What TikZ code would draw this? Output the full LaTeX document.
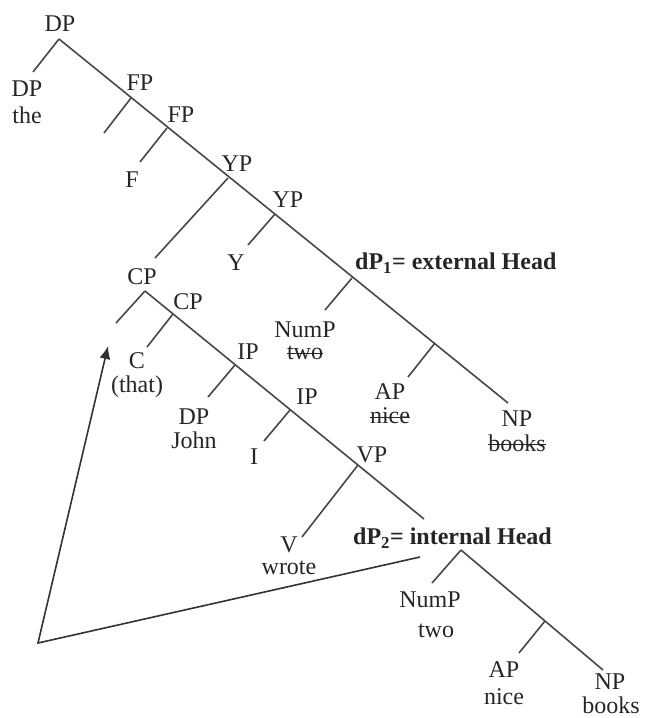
\documentclass[tikz,border=0pt]{standalone}
\usepackage{fontspec}
\setmainfont{Liberation Serif}
\usetikzlibrary{arrows.meta}
\newsavebox\strkbox
\newcommand\strk[1]{\sbox\strkbox{#1}\rlap{\rule[0.24em]{\wd\strkbox}{1.2pt}}\usebox\strkbox}
\begin{document}
\begin{tikzpicture}[x=1pt,y=-1pt,
  lab/.style={font=\fontsize{24}{26}\selectfont, text=black!85, inner sep=0pt},
  head/.style={font=\fontsize{24}{26}\selectfont\bfseries, text=black!85, inner sep=0pt, anchor=west},
  br/.style={draw=black!72, line width=1.6pt},
  mv/.style={draw=black!80, line width=1.6pt, -{Latex[length=13pt,width=11pt]}}]
\useasboundingbox (0,0) rectangle (646,718);
% upper tree
\coordinate (r0) at (59,39);
\coordinate (r0l) at (33,72);
\coordinate (fp1) at (131,98);
\coordinate (fp1l) at (104,133);
\coordinate (fp2) at (167,128);
\coordinate (fp2l) at (140,162);
\coordinate (yp1) at (228,178);
\coordinate (yp1l) at (155,258);
\coordinate (yp2) at (275,214);
\coordinate (yp2l) at (248,245);
\coordinate (d1) at (352,278);
\coordinate (d1l) at (325,310);
\coordinate (ap1) at (435,343);
\coordinate (ap1l) at (408,377);
\coordinate (np1) at (508,403);
% relative clause
\coordinate (cp1) at (145,291);
\coordinate (cp1l) at (116,323);
\coordinate (cp2) at (173,314);
\coordinate (cp2l) at (147,347);
\coordinate (ip1) at (235,365);
\coordinate (ip1l) at (208,397);
\coordinate (ip2) at (290,410);
\coordinate (ip2l) at (264,441);
\coordinate (vp) at (358,465);
\coordinate (vpl) at (302,537);
\coordinate (dp2e) at (424,519);
% internal head
\coordinate (d2) at (461,550);
\coordinate (d2l) at (432,583);
\coordinate (ap2) at (545,621);
\coordinate (ap2l) at (519,653);
\coordinate (np2) at (603,670);
% arrow
\coordinate (arS) at (420,557);
\coordinate (arC) at (38,643);
\coordinate (arT) at (108,346);

\draw[br] (r0) -- (np1);
\draw[br] (r0) -- (r0l);
\draw[br] (fp1) -- (fp1l);
\draw[br] (fp2) -- (fp2l);
\draw[br] (yp1) -- (yp1l);
\draw[br] (yp2) -- (yp2l);
\draw[br] (d1) -- (d1l);
\draw[br] (ap1) -- (ap1l);

\draw[br] (cp1) -- (dp2e);
\draw[br] (cp1) -- (cp1l);
\draw[br] (cp2) -- (cp2l);
\draw[br] (ip1) -- (ip1l);
\draw[br] (ip2) -- (ip2l);
\draw[br] (vp) -- (vpl);

\draw[br] (d2) -- (np2);
\draw[br] (d2) -- (d2l);
\draw[br] (ap2) -- (ap2l);

\draw[mv] (arS) -- (arC) -- (arT);

% labels
\node[lab] (tDP) at (60,24) {DP};
\node[lab] (tDPa) at (27,89) {DP};
\node[lab] (tthe) at (27,115) {the};
\node[lab] (tFP1) at (140,83) {FP};
\node[lab] (tFP2) at (181,115) {FP};
\node[lab] (tF) at (132,180) {F};
\node[lab] (tYP1) at (237,164) {YP};
\node[lab] (tYP2) at (288,200) {YP};
\node[lab] (tY) at (236,263) {Y};
\node[head] (tdP1) at (355,263) {dP\textsubscript{1}= external Head};
\node[lab] (tNum1) at (305,330) {NumP};
\node[lab] (ttwo1) at (305,353) {\strk{two}};
\node[lab] (tAP1) at (390,392) {AP};
\node[lab] (tnice1) at (390,416) {\strk{nice}};
\node[lab] (tNP1) at (517,419) {NP};
\node[lab] (tbooks1) at (517,443) {\strk{books}};

\node[lab] (tCP1) at (142,277) {CP};
\node[lab] (tCP2) at (188,302) {CP};
\node[lab] (tC) at (137,361) {C};
\node[lab] (tthat) at (137,387) {(that)};
\node[lab] (tIP1) at (248,352) {IP};
\node[lab] (tDPj) at (194,417) {DP};
\node[lab] (tJohn) at (194,440) {John};
\node[lab] (tIP2) at (307,397) {IP};
\node[lab] (tI) at (254,457) {I};
\node[lab] (tVP) at (372,455) {VP};
\node[lab] (tV) at (289,545) {V};
\node[lab] (twrote) at (289,568) {wrote};

\node[head] (tdP2) at (353,538) {dP\textsubscript{2}= internal Head};
\node[lab] (tNum2) at (430,600) {NumP};
\node[lab] (ttwo2) at (436,631) {two};
\node[lab] (tAP2) at (504,670) {AP};
\node[lab] (tnice2) at (504,697) {nice};
\node[lab] (tNP2) at (610,682) {NP};
\node[lab] (tbooks2) at (611,705) {books};
\end{tikzpicture}
\end{document}
